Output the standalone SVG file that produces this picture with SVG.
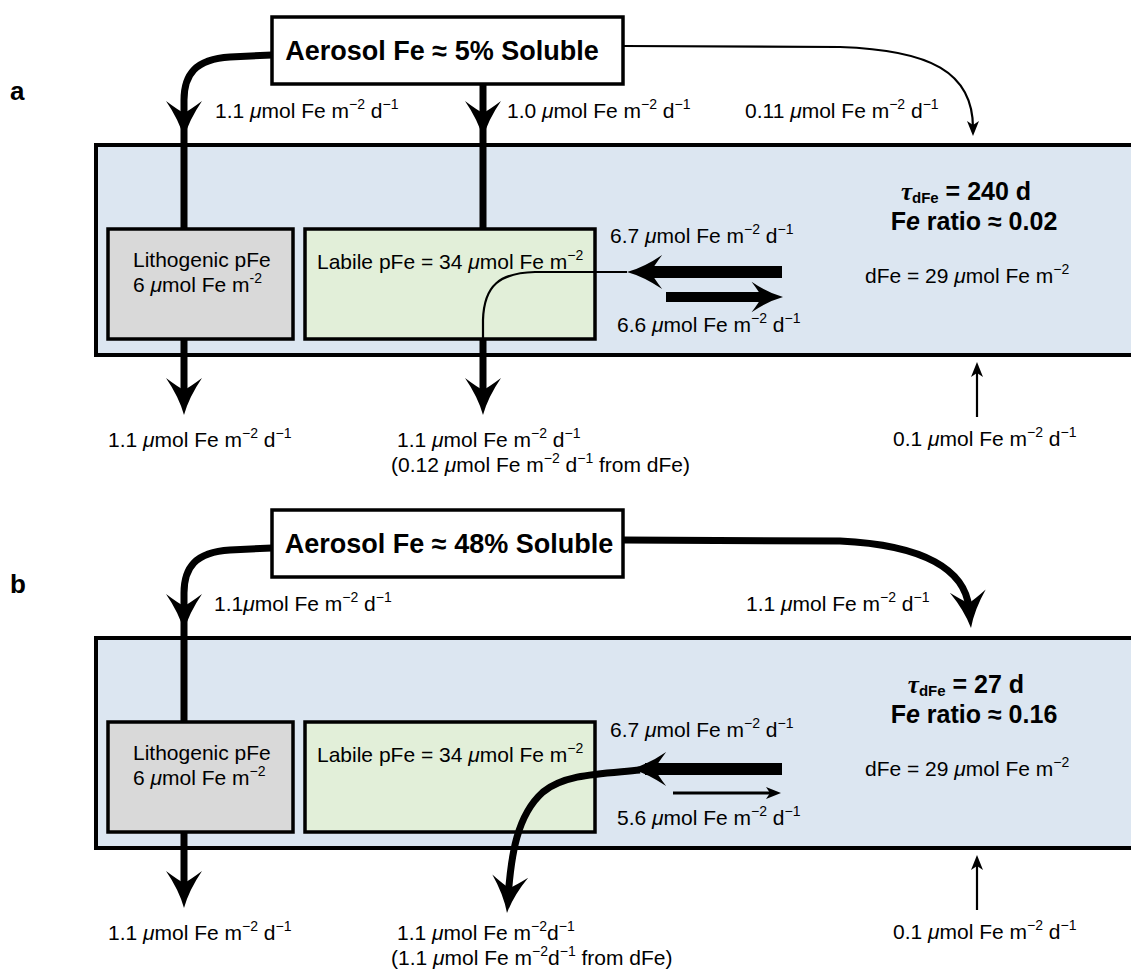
<svg xmlns="http://www.w3.org/2000/svg" width="1131" height="970" viewBox="0 0 1131 970">
<style>
text{font-family:"Liberation Sans",Arial,Helvetica,sans-serif;font-size:21px;fill:#000}
.b{font-weight:bold}
.i{font-style:italic}
.sup{font-size:14px}
.sub{font-size:15px;font-weight:bold}
.ttl{font-size:27px;font-weight:bold}
.tau{font-size:25px;font-weight:bold}
.tg{font-family:"Liberation Serif","DejaVu Serif",serif;font-style:italic;font-weight:bold}
.box{fill:#fff;stroke:#000;stroke-width:3.5}
.ocean{fill:#dce6f1;stroke:#000;stroke-width:4}
.litho{fill:#d9d9d9;stroke:#000;stroke-width:3.5}
.labile{fill:#e2efd9;stroke:#000;stroke-width:3.5}
.thick{fill:none;stroke:#000;stroke-width:7}
.thin{fill:none;stroke:#000;stroke-width:2.2}
.head{fill:#000}
</style>
<defs>
<path id="hb" d="M0,0 Q-5,-18 -18,-37 Q-6,-28 0,-25 Q6,-28 18,-37 Q5,-18 0,0Z"/>
<path id="hs" d="M0,0 L-6,-15 L0,-11 L6,-15Z"/>
</defs>
<rect width="1131" height="970" fill="#fff"/>

<!-- panel labels -->
<text x="10" y="100" class="b" style="font-size:26px">a</text>
<text x="10" y="593" class="b" style="font-size:26px">b</text>

<!-- ================= PANEL A ================= -->
<g id="ocean-a"><rect class="ocean" x="96" y="145" width="1060" height="210"/></g>
<g id="aerosol-a"><rect class="box" x="272" y="17" width="351" height="67"/>
<text class="ttl" x="442" y="60" text-anchor="middle">Aerosol Fe ≈ 5% Soluble</text></g>
<g id="litho-a"><rect class="litho" x="108" y="229" width="185" height="110"/>
<text x="133" y="267">Lithogenic pFe</text>
<text x="133" y="292">6 <tspan class="i">μ</tspan>mol Fe m<tspan class="sup" dy="-9">-2</tspan></text></g>
<g id="labile-a"><rect class="labile" x="305" y="229" width="290" height="110"/>
<text x="317" y="269">Labile pFe = 34 <tspan class="i">μ</tspan>mol Fe m<tspan class="sup" dy="-9">−2</tspan></text></g>
<g id="dfe-a">
<text class="tau" x="966" y="200" text-anchor="middle"><tspan class="tg">τ</tspan><tspan class="sub" dy="3">dFe</tspan><tspan dy="-3"> = 240 d</tspan></text>
<text class="tau" x="974" y="230" text-anchor="middle">F<tspan class="i">e</tspan> ratio ≈ 0.02</text>
<text x="865" y="283">dFe = 29 <tspan class="i">μ</tspan>mol Fe m<tspan class="sup" dy="-9">−2</tspan></text>
</g>

<g id="connectors-a">
<path class="thick" d="M272,55 L230,57 C195,59 184,75 184,100 L184,229"/>
<use href="#hb" class="head" transform="translate(184,138)"/>
<path class="thick" d="M483,84 L483,229"/>
<use href="#hb" class="head" transform="translate(483,138)"/>
<path class="thin" d="M623,46 L840,47 C930,50 973,72 973,128"/>
<use href="#hs" class="head" transform="translate(973,136)"/>
<path class="thick" d="M184,339 L184,400"/>
<use href="#hb" class="head" transform="translate(184,415)"/>
<path class="thick" d="M483,339 L483,400"/>
<use href="#hb" class="head" transform="translate(483,415)"/>
<path class="thin" d="M627,272 L535,272 C500,273 484,285 483,320 L483,339"/>
<path d="M645,272 L782,272" stroke="#000" stroke-width="12"/>
<use href="#hb" class="head" transform="translate(627,272) rotate(90) scale(0.95)"/>
<path d="M666,297 L765,297" stroke="#000" stroke-width="10"/>
<use href="#hb" class="head" transform="translate(783,297) rotate(-90) scale(0.85)"/>
<path class="thin" d="M977,417 L977,368"/>
<use href="#hs" class="head" transform="translate(977,362) rotate(180)"/>
</g>
<g id="labels-a">
<text x="215" y="118">1.1 <tspan class="i">μ</tspan>mol Fe m<tspan class="sup" dy="-9">−2</tspan><tspan dy="9"> d</tspan><tspan class="sup" dy="-9">−1</tspan></text>
<text x="507" y="118">1.0 <tspan class="i">μ</tspan>mol Fe m<tspan class="sup" dy="-9">−2</tspan><tspan dy="9"> d</tspan><tspan class="sup" dy="-9">−1</tspan></text>
<text x="745" y="118">0.11 <tspan class="i">μ</tspan>mol Fe m<tspan class="sup" dy="-9">−2</tspan><tspan dy="9"> d</tspan><tspan class="sup" dy="-9">−1</tspan></text>
<text x="610" y="243">6.7 <tspan class="i">μ</tspan>mol Fe m<tspan class="sup" dy="-9">−2</tspan><tspan dy="9"> d</tspan><tspan class="sup" dy="-9">−1</tspan></text>
<text x="617" y="332">6.6 <tspan class="i">μ</tspan>mol Fe m<tspan class="sup" dy="-9">−2</tspan><tspan dy="9"> d</tspan><tspan class="sup" dy="-9">−1</tspan></text>
<text x="108" y="447">1.1 <tspan class="i">μ</tspan>mol Fe m<tspan class="sup" dy="-9">−2</tspan><tspan dy="9"> d</tspan><tspan class="sup" dy="-9">−1</tspan></text>
<text x="397" y="447">1.1 <tspan class="i">μ</tspan>mol Fe m<tspan class="sup" dy="-9">−2</tspan><tspan dy="9"> d</tspan><tspan class="sup" dy="-9">−1</tspan></text>
<text x="391" y="472">(0.12 <tspan class="i">μ</tspan>mol Fe m<tspan class="sup" dy="-9">−2</tspan><tspan dy="9"> d</tspan><tspan class="sup" dy="-9">−1</tspan><tspan dy="9"> from dFe)</tspan></text>
<text x="893" y="446">0.1 <tspan class="i">μ</tspan>mol Fe m<tspan class="sup" dy="-9">−2</tspan><tspan dy="9"> d</tspan><tspan class="sup" dy="-9">−1</tspan></text>
</g>

<!-- ================= PANEL B ================= -->
<g id="ocean-b"><rect class="ocean" x="96" y="638" width="1060" height="210"/></g>
<g id="aerosol-b"><rect class="box" x="272" y="510" width="351" height="67"/>
<text class="ttl" x="449" y="553" text-anchor="middle">Aerosol Fe ≈ 48% Soluble</text></g>
<g id="litho-b"><rect class="litho" x="108" y="722" width="185" height="110"/>
<text x="133" y="760">Lithogenic pFe</text>
<text x="133" y="785">6 <tspan class="i">μ</tspan>mol Fe m<tspan class="sup" dy="-9">−2</tspan></text></g>
<g id="labile-b"><rect class="labile" x="305" y="722" width="290" height="110"/>
<text x="317" y="762">Labile pFe = 34 <tspan class="i">μ</tspan>mol Fe m<tspan class="sup" dy="-9">−2</tspan></text></g>
<g id="dfe-b">
<text class="tau" x="966" y="693" text-anchor="middle"><tspan class="tg">τ</tspan><tspan class="sub" dy="3">dFe</tspan><tspan dy="-3"> = 27 d</tspan></text>
<text class="tau" x="974" y="723" text-anchor="middle">F<tspan class="i">e</tspan> ratio ≈ 0.16</text>
<text x="865" y="776">dFe = 29 <tspan class="i">μ</tspan>mol Fe m<tspan class="sup" dy="-9">−2</tspan></text>
</g>

<g id="connectors-b">
<path class="thick" d="M272,548 L230,550 C195,552 184,568 184,593 L184,722"/>
<use href="#hb" class="head" transform="translate(184,631)"/>
<path class="thick" d="M623,540 L840,541 C925,545 965,570 969,608"/>
<use href="#hb" class="head" transform="translate(971,628) rotate(-5)"/>
<path class="thick" d="M184,832 L184,893"/>
<use href="#hb" class="head" transform="translate(184,908)"/>
<path class="thick" d="M640,770 C600,774 565,774 543,792 C517,815 511,855 508,898"/>
<use href="#hb" class="head" transform="translate(507,913) rotate(5)"/>
<path d="M645,769 L782,769" stroke="#000" stroke-width="12"/>
<use href="#hb" class="head" transform="translate(631,769) rotate(90) scale(0.95)"/>
<path d="M673,793 L772,793" stroke="#000" stroke-width="3"/>
<use href="#hs" class="head" transform="translate(781,793) rotate(-90)"/>
<path class="thin" d="M977,910 L977,861"/>
<use href="#hs" class="head" transform="translate(977,855) rotate(180)"/>
</g>
<g id="labels-b">
<text x="214" y="611">1.1<tspan class="i">μ</tspan>mol Fe m<tspan class="sup" dy="-9">−2</tspan><tspan dy="9"> d</tspan><tspan class="sup" dy="-9">−1</tspan></text>
<text x="746" y="611">1.1 <tspan class="i">μ</tspan>mol Fe m<tspan class="sup" dy="-9">−2</tspan><tspan dy="9"> d</tspan><tspan class="sup" dy="-9">−1</tspan></text>
<text x="610" y="737">6.7 <tspan class="i">μ</tspan>mol Fe m<tspan class="sup" dy="-9">−2</tspan><tspan dy="9"> d</tspan><tspan class="sup" dy="-9">−1</tspan></text>
<text x="617" y="825">5.6 <tspan class="i">μ</tspan>mol Fe m<tspan class="sup" dy="-9">−2</tspan><tspan dy="9"> d</tspan><tspan class="sup" dy="-9">−1</tspan></text>
<text x="108" y="940">1.1 <tspan class="i">μ</tspan>mol Fe m<tspan class="sup" dy="-9">−2</tspan><tspan dy="9"> d</tspan><tspan class="sup" dy="-9">−1</tspan></text>
<text x="397" y="940">1.1 <tspan class="i">μ</tspan>mol Fe m<tspan class="sup" dy="-9">−2</tspan><tspan dy="9">d</tspan><tspan class="sup" dy="-9">−1</tspan></text>
<text x="391" y="965">(1.1 <tspan class="i">μ</tspan>mol Fe m<tspan class="sup" dy="-9">−2</tspan><tspan dy="9">d</tspan><tspan class="sup" dy="-9">−1</tspan><tspan dy="9"> from dFe)</tspan></text>
<text x="893" y="939">0.1 <tspan class="i">μ</tspan>mol Fe m<tspan class="sup" dy="-9">−2</tspan><tspan dy="9"> d</tspan><tspan class="sup" dy="-9">−1</tspan></text>
</g>
</svg>
